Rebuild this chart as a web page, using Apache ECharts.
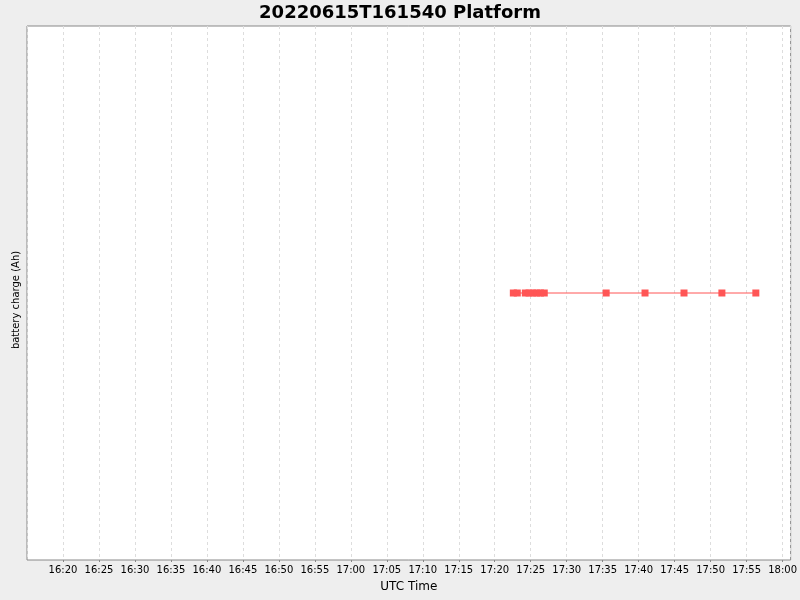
<!DOCTYPE html>
<html>
<head>
<meta charset="utf-8">
<script src="https://cdn.jsdelivr.net/npm/echarts@6/dist/echarts.min.js"></script>
<style>
html,body{margin:0;padding:0;background:#eeeeee;}
#chart{width:800px;height:600px;}
</style>
</head>
<body>
<div id="chart"></div>
<script>
// Sample times (UTC, 2022-06-15) and battery charge values
const sampleTimes = [
  "17:22:35", "17:23:08", "17:24:15", "17:24:46", "17:25:18",
  "17:25:50", "17:26:21", "17:26:53", "17:35:29", "17:40:53",
  "17:46:18", "17:51:34", "17:56:17"
];
const batteryCharge = [0, 0, 0, 0, 0, 0, 0, 0, 0, 0, 0, 0, 0];
const axisStart = "16:15:00";
const axisEnd = "18:01:07";
const titleText = "20220615T161540 Platform";

function toMs(hms) {
  const p = hms.split(":").map(Number);
  return Date.UTC(2022, 5, 15, p[0], p[1], p[2]);
}
function pad(n) { return (n < 10 ? "0" : "") + n; }

const seriesData = sampleTimes.map((t, i) => [toMs(t), batteryCharge[i]]);

const chart = echarts.init(document.getElementById("chart"), null, {renderer: "canvas"});
chart.setOption({
  backgroundColor: "#eeeeee",
  animation: false,
  title: {
    text: titleText,
    left: "center",
    top: -1,
    textStyle: {fontFamily: "DejaVu Sans", fontSize: 18, fontWeight: "bold", color: "#000"}
  },
  grid: {
    left: 27, right: 8, top: 26, bottom: 40,
    show: true, backgroundColor: "#ffffff", borderColor: "#888888", borderWidth: 1
  },
  xAxis: {
    type: "value",
    min: toMs(axisStart),
    max: toMs(axisEnd),
    interval: 5 * 60 * 1000,
    name: "UTC Time",
    nameLocation: "middle",
    nameGap: 21,
    nameTextStyle: {fontFamily: "DejaVu Sans", fontSize: 12, color: "#000"},
    axisLine: {show: false, onZero: false},
    axisTick: {show: true, length: 2, lineStyle: {color: "#888888"}},
    axisLabel: {
      fontFamily: "DejaVu Sans", fontSize: 10, color: "#000", margin: 5,
      showMinLabel: false, showMaxLabel: false,
      formatter: function (v) {
        const d = new Date(v);
        return pad(d.getUTCHours()) + ":" + pad(d.getUTCMinutes());
      }
    },
    splitLine: {show: true, lineStyle: {color: "#dddddd", type: [3, 3], width: 1}}
  },
  yAxis: {
    type: "value",
    min: -1, max: 1,
    name: "battery charge (Ah)",
    nameLocation: "middle",
    nameGap: 6,
    nameTextStyle: {fontFamily: "DejaVu Sans", fontSize: 10, color: "#000", padding: [0, 14, 0, 0]},
    axisLine: {show: false, onZero: false},
    axisTick: {show: false},
    axisLabel: {show: false},
    splitLine: {show: false}
  },
  series: [{
    type: "line",
    data: seriesData,
    symbol: "rect",
    symbolSize: 7,
    showAllSymbol: true,
    lineStyle: {color: "#ff5555", width: 1},
    itemStyle: {color: "#ff5555"}
  }]
});
</script>
</body>
</html>
